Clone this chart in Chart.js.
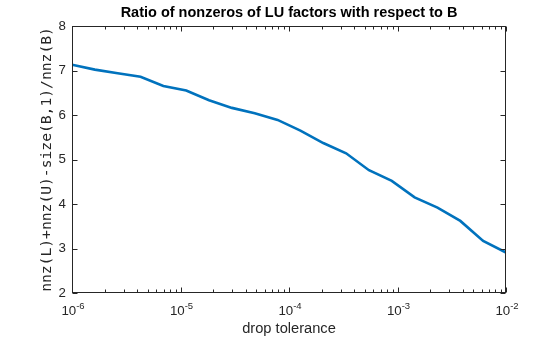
<!DOCTYPE html>
<html>
<head>
<meta charset="utf-8">
<script src="https://cdn.jsdelivr.net/npm/chart.js@4/dist/chart.umd.min.js"></script>
<style>
  html, body { margin: 0; padding: 0; background: #fff; }
  #wrap { width: 560px; height: 337px; }
</style>
</head>
<body>
<div id="wrap"><canvas id="c" width="560" height="337"></canvas></div>
<script>
// Drop tolerances (log-spaced) and resulting fill ratio
const dropTol = [1e-6, 1.624e-6, 2.637e-6, 4.281e-6, 6.952e-6, 1.129e-5, 1.833e-5, 2.976e-5,
                 4.833e-5, 7.848e-5, 1.274e-4, 2.069e-4, 3.360e-4, 5.456e-4, 8.859e-4,
                 1.438e-3, 2.336e-3, 3.793e-3, 6.158e-3, 1e-2];
const ratio = [7.13, 7.02, 6.94, 6.86, 6.65, 6.55, 6.33, 6.16, 6.04, 5.89,
               5.65, 5.37, 5.14, 4.76, 4.52, 4.15, 3.92, 3.62, 3.17, 2.91];
const xTickExps = [-6, -5, -4, -3, -2];
const yTicks = [2, 3, 4, 5, 6, 7, 8];

const titleText = 'Ratio of nonzeros of LU factors with respect to B';
const xLabel = 'drop tolerance';
const yLabel = 'nnz(L)+nnz(U)-size(B,1)/nnz(B)';

const ink = '#262626';
const sans = '"Liberation Sans", Arial, sans-serif';

// Box, inward ticks, power-of-ten labels and axis titles
const axesDecor = {
  id: 'axesDecor',
  afterDraw(chart) {
    const ctx = chart.ctx;
    const a = chart.chartArea;
    const xs = chart.scales.x, ys = chart.scales.y;
    const L = Math.round(a.left) + 0.5, R = Math.round(a.right) - 0.5;
    const T = Math.round(a.top) + 0.5, B = Math.round(a.bottom) - 0.5;
    ctx.save();
    ctx.strokeStyle = ink;
    ctx.lineWidth = 1;
    ctx.strokeRect(L, T, R - L, B - T);

    ctx.beginPath();
    // y ticks, left and right
    yTicks.forEach(v => {
      const py = Math.round(ys.getPixelForValue(v)) + 0.5;
      ctx.moveTo(L, py); ctx.lineTo(L + 5, py);
      ctx.moveTo(R, py); ctx.lineTo(R - 5, py);
    });
    // x major and minor ticks, bottom and top
    xTickExps.forEach((e, i) => {
      const px = Math.round(xs.getPixelForValue(Math.pow(10, e))) + 0.5;
      ctx.moveTo(px, B); ctx.lineTo(px, B - 5);
      ctx.moveTo(px, T); ctx.lineTo(px, T + 5);
      if (i < xTickExps.length - 1) {
        for (let m = 2; m <= 9; m++) {
          const qx = Math.round(xs.getPixelForValue(m * Math.pow(10, e))) + 0.5;
          ctx.moveTo(qx, B); ctx.lineTo(qx, B - 3);
          ctx.moveTo(qx, T); ctx.lineTo(qx, T + 3);
        }
      }
    });
    ctx.stroke();

    // x tick labels: 10 with superscript exponent
    ctx.fillStyle = ink;
    ctx.textBaseline = 'alphabetic';
    xTickExps.forEach(e => {
      const px = xs.getPixelForValue(Math.pow(10, e));
      const base = '10', sup = String(e);
      ctx.font = '13.3px ' + sans;
      const wb = ctx.measureText(base).width;
      ctx.font = '9.5px ' + sans;
      const ws = ctx.measureText(sup).width;
      const x0 = px - (wb + ws) / 2 + 1;
      ctx.font = '13.3px ' + sans;
      ctx.textAlign = 'left';
      ctx.fillText(base, x0, 315);
      ctx.font = '9.5px ' + sans;
      ctx.fillText(sup, x0 + wb, 309);
    });

    // title
    ctx.textAlign = 'center';
    ctx.font = 'bold 14.5px ' + sans;
    ctx.fillStyle = '#000';
    ctx.fillText(titleText, (a.left + a.right) / 2, 17);

    // x label
    ctx.fillStyle = ink;
    ctx.font = '14.67px ' + sans;
    ctx.fillText(xLabel, (a.left + a.right) / 2, 333);

    // y label (rotated, centred on the axis)
    ctx.translate(47, (a.top + a.bottom) / 2);
    ctx.rotate(-Math.PI / 2);
    ctx.textBaseline = 'middle';
    ctx.font = '14.67px "DejaVu Sans Mono", monospace';
    ctx.fillText(yLabel, 0, 0);
    ctx.restore();
  }
};

new Chart(document.getElementById('c'), {
  type: 'line',
  data: {
    datasets: [{
      data: dropTol.map((x, i) => ({ x: x, y: ratio[i] })),
      borderColor: '#0072BD',
      borderWidth: 2.6,
      pointRadius: 0,
      tension: 0,
      fill: false
    }]
  },
  options: {
    responsive: false,
    animation: false,
    devicePixelRatio: 1,
    layout: { padding: { left: 0, right: 54, top: 26, bottom: 0 } },
    plugins: { legend: { display: false }, tooltip: { enabled: false }, title: { display: false } },
    scales: {
      x: {
        type: 'logarithmic',
        min: 1e-6, max: 1e-2,
        grid: { display: false },
        border: { display: false },
        ticks: { display: false },
        afterFit(s) { s.height = 44; }
      },
      y: {
        type: 'linear',
        min: 2, max: 8,
        grid: { display: false, drawTicks: false },
        border: { display: false },
        ticks: {
          stepSize: 1,
          padding: 6,
          color: ink,
          font: { family: 'Liberation Sans', size: 13.3 }
        },
        afterFit(s) { s.width = 72; }
      }
    }
  },
  plugins: [axesDecor]
});
</script>
</body>
</html>
